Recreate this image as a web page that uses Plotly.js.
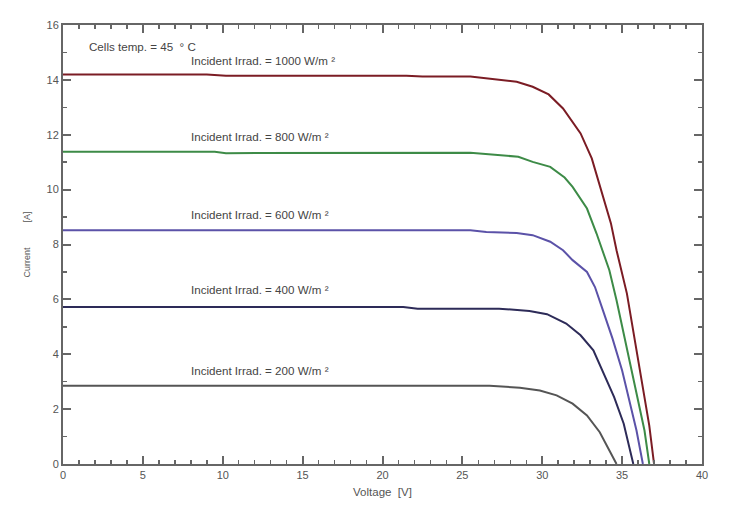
<!DOCTYPE html>
<html>
<head>
<meta charset="utf-8">
<script src="https://cdn.plot.ly/plotly-3.0.1.min.js"></script>
<style>html,body{margin:0;padding:0;background:#fff;}#chart{width:753px;height:532px;}</style>
</head>
<body>
<div id="chart"></div>
<script>
// Irradiance levels
const irradLabels = ["1000", "800", "600", "400", "200"];
// I-V curves (Voltage [V], Current [A])
const v1000 = [0, 9, 10.2, 21.5, 22.5, 25.5, 28.4, 29.4, 30.4, 31.3, 32.4, 33.1, 34.3, 34.65, 35.3, 36.0, 36.4, 36.7, 37.0];
const i1000 = [14.2, 14.2, 14.15, 14.15, 14.12, 14.12, 13.93, 13.75, 13.47, 12.96, 12.05, 11.14, 8.77, 7.79, 6.21, 3.78, 2.44, 1.4, 0];
const v800 = [0, 9.5, 10.2, 25.5, 28.5, 29.4, 30.5, 31.4, 31.9, 32.8, 33.4, 33.85, 34.2, 34.65, 35.2, 35.6, 36.1, 36.4, 36.7];
const i800 = [11.38, 11.38, 11.33, 11.34, 11.2, 11.01, 10.83, 10.44, 10.1, 9.31, 8.4, 7.6, 7.06, 5.97, 4.5, 3.41, 2.07, 1.22, 0];
const v600 = [0, 25.5, 26.5, 28.4, 29.4, 30.5, 31.3, 31.9, 32.8, 33.3, 33.8, 34.4, 35.0, 35.5, 35.9, 36.3];
const i600 = [8.52, 8.52, 8.46, 8.42, 8.34, 8.1, 7.79, 7.43, 7.0, 6.45, 5.6, 4.57, 3.41, 2.2, 1.22, 0];
const v400 = [0, 21.3, 22.2, 27.3, 29.2, 30.3, 31.5, 32.4, 33.2, 34.0, 34.5, 35.1, 35.7];
const i400 = [5.72, 5.72, 5.66, 5.66, 5.58, 5.46, 5.12, 4.69, 4.14, 3.11, 2.44, 1.47, 0];
const v200 = [0, 26.7, 28.6, 29.85, 30.9, 31.9, 32.8, 33.6, 34.65];
const i200 = [2.85, 2.85, 2.78, 2.68, 2.5, 2.2, 1.77, 1.16, 0];
// Label positions (data coords)
const labelX = [7.9, 7.9, 7.9, 7.9, 7.9];
const labelY = [14.72, 11.95, 9.1, 6.35, 3.42];
const tempText = "Cells temp. = 45  ° C";

const colors = ["#7b1c24", "#3d8b47", "#5b52a8", "#2d2b58", "#555555"];
const vs = [v1000, v800, v600, v400, v200];
const is = [i1000, i800, i600, i400, i200];

const traces = vs.map((v, k) => ({
  x: v, y: is[k], type: "scatter", mode: "lines",
  line: {color: colors[k], width: 2}, showlegend: false, hoverinfo: "skip"
}));

const FONT = "Liberation Sans, Arial, sans-serif";
const annotations = irradLabels.map((t, k) => ({
  x: labelX[k], y: labelY[k], xref: "x", yref: "y", xanchor: "left", yanchor: "middle",
  text: "Incident Irrad. = " + t + " W/m ²", showarrow: false,
  font: {family: FONT, size: 11.6, color: "#444"}
}));
annotations.push({
  x: 1.5, y: 15.2, xref: "x", yref: "y", xanchor: "left", yanchor: "middle",
  text: tempText, showarrow: false,
  font: {family: FONT, size: 11.6, color: "#444"}
});

const axisCommon = {
  showline: true, linecolor: "#666", linewidth: 2, mirror: "ticks",
  ticks: "inside", ticklen: 8, tickwidth: 2, tickcolor: "#666",
  showgrid: false, zeroline: false,
  tickfont: {family: FONT, size: 11, color: "#555"},
  minor: {ticks: "inside", ticklen: 4, tickwidth: 1.5, tickcolor: "#666", dtick: 1, showgrid: false}
};

const layout = {
  width: 753, height: 532,
  margin: {l: 63, r: 51, t: 25, b: 68},
  paper_bgcolor: "#fff", plot_bgcolor: "#fff",
  xaxis: Object.assign({}, axisCommon, {
    range: [0, 40], dtick: 5, tick0: 0,
    title: {text: "Voltage  [V]", standoff: 8,
      font: {family: FONT, size: 11.5, color: "#555"}}
  }),
  yaxis: Object.assign({}, axisCommon, {
    range: [0, 16], dtick: 2, tick0: 0,
    title: {text: "Current          [A]", standoff: 14,
      font: {family: FONT, size: 9, color: "#555"}}
  }),
  annotations: annotations
};

Plotly.newPlot("chart", traces, layout, {displayModeBar: false, staticPlot: true});
</script>
</body>
</html>
